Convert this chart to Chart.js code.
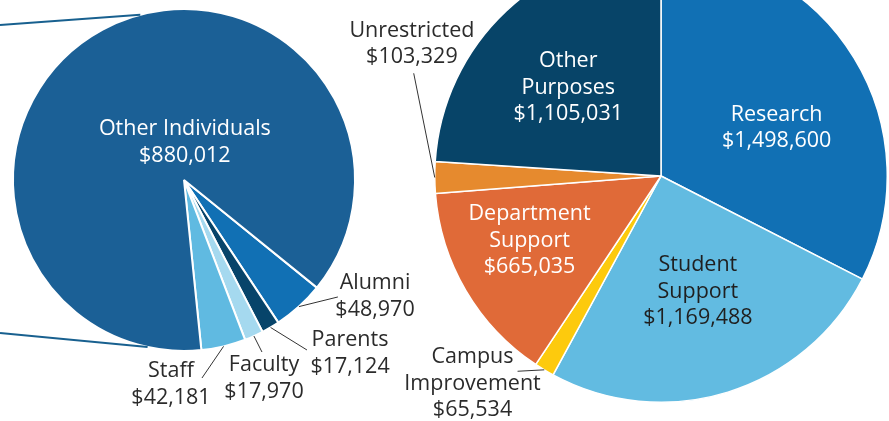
<!DOCTYPE html>
<html><head><meta charset="utf-8">
<script src="https://cdn.jsdelivr.net/npm/chart.js@4"></script>
<style>
html,body{margin:0;padding:0;background:#fff;overflow:hidden;width:889px;height:421px;}
#wrap{position:relative;width:889px;height:421px;overflow:hidden;}
#c1{position:absolute;left:0;top:0;}
#c2{position:absolute;left:0;top:-51px;}
</style></head><body>
<div id="wrap">
<canvas id="c1" width="889" height="421"></canvas>
<canvas id="c2" width="889" height="472"></canvas>
</div>
<script>
// ---- data ----
const donorCategories = ["Alumni", "Parents", "Faculty", "Staff", "Other Individuals"];
const donorValues = [48970, 17124, 17970, 42181, 880012];
const purposeCategories = [["Research"], ["Student", "Support"], ["Campus", "Improvement"], ["Department", "Support"], ["Unrestricted"], ["Other", "Purposes"]];
const purposeValues = [1498600, 1169488, 65534, 665035, 103329, 1105031];

// ---- styles ----
const donorColors = ["#1170b4", "#07446a", "#a5d9ef", "#60bae1", "#1b6096"];
const purposeColors = ["#1170b4", "#62bbe1", "#fdca0d", "#e06a38", "#e68a2e", "#074468"];
const FONT = '21.5px "Open Sans", sans-serif';
const LINE_H = 26.5;
const TEXT_SHIFT = 1;
const DARK = '#2b2b2b';
// label anchor positions in units of pie radius relative to the pie centre
const donorLabelStyle = [
  {pos: [1.117, 0.675], color: DARK, leader: [0.90, 0.684]},
  {pos: [0.971, 1.009], color: DARK, leader: [0.719, 0.994]},
  {pos: [0.468, 1.155], color: DARK, leader: [0.456, 1.006]},
  {pos: [-0.076, 1.19], color: DARK, leader: [0.105, 1.158]},
  {pos: [0.005, -0.225], color: '#ffffff'}
];
const purposeLabelStyle = [
  {pos: [0.511, -0.218], color: '#ffffff'},
  {pos: [0.163, 0.507], color: '#1f1f1f'},
  {pos: [-0.833, 0.913], color: DARK, leader: [-0.634, 0.863]},
  {pos: [-0.581, 0.282], color: '#ffffff'},
  {pos: [-1.101, -0.588], color: DARK, leader: [-1.093, -0.454]},
  {pos: [-0.41, -0.395], color: '#ffffff'}
];
// zoom connector lines on the left pie: angle on circle (deg from top) -> left edge point (radius units)
const connectors = [
  {angle: -14.8, to: [-1.076, -0.906]},
  {angle: 192.3, to: [-1.076, 0.895]}
];

const fmt = v => '$' + v.toLocaleString('en-US');

const sliceLabels = {
  id: 'sliceLabels',
  afterDatasetsDraw(chart, args, opts) {
    const ctx = chart.ctx;
    const arcs = chart.getDatasetMeta(0).data;
    const cx = arcs[0].x, cy = arcs[0].y, r = arcs[0].outerRadius;
    const ds = chart.data.datasets[0];
    ctx.save();
    if (opts.connectors) {
      ctx.strokeStyle = '#18608f';
      ctx.lineWidth = 2;
      opts.connectors.forEach(c => {
        const a = c.angle * Math.PI / 180;
        ctx.beginPath();
        ctx.moveTo(cx + c.to[0] * r, cy + c.to[1] * r);
        ctx.lineTo(cx + r * Math.sin(a), cy - r * Math.cos(a));
        ctx.stroke();
      });
    }
    arcs.forEach((arc, i) => {
      const st = opts.styles[i];
      if (st.leader) {
        const mid = (arc.startAngle + arc.endAngle) / 2;
        ctx.strokeStyle = '#333';
        ctx.lineWidth = 1;
        ctx.beginPath();
        ctx.moveTo(cx + r * Math.cos(mid), cy + r * Math.sin(mid));
        ctx.lineTo(cx + st.leader[0] * r, cy + st.leader[1] * r);
        ctx.stroke();
      }
      const lab = chart.data.labels[i];
      const lines = (Array.isArray(lab) ? lab.slice() : [lab]);
      lines.push(fmt(ds.data[i]));
      ctx.font = FONT;
      ctx.fillStyle = st.color;
      ctx.textAlign = 'center';
      ctx.textBaseline = 'middle';
      const x = cx + st.pos[0] * r;
      const y0 = cy + st.pos[1] * r - (lines.length - 1) * LINE_H / 2 + TEXT_SHIFT;
      lines.forEach((t, k) => ctx.fillText(t, x, y0 + k * LINE_H));
    });
    ctx.restore();
  }
};

function pie(id, labels, values, colors, border, rotation, padding, styles, conn) {
  return new Chart(document.getElementById(id), {
    type: 'pie',
    data: {labels: labels, datasets: [{data: values, backgroundColor: colors, borderColor: '#ffffff', borderWidth: border, hoverOffset: 0, offset: 0}]},
    options: {
      responsive: false, animation: false, rotation: rotation,
      layout: {padding: padding},
      events: [],
      plugins: {legend: {display: false}, tooltip: {enabled: false}, sliceLabels: {styles: styles, connectors: conn}}
    },
    plugins: [sliceLabels]
  });
}

pie('c1', donorCategories, donorValues, donorColors, 2, 129, {left: 12, top: 8, right: 533, bottom: 69}, donorLabelStyle, connectors);
pie('c2', purposeCategories, purposeValues, purposeColors, 1.5, 0, {left: 434, top: 0, right: 1, bottom: 18}, purposeLabelStyle, null);
</script>
</body></html>
